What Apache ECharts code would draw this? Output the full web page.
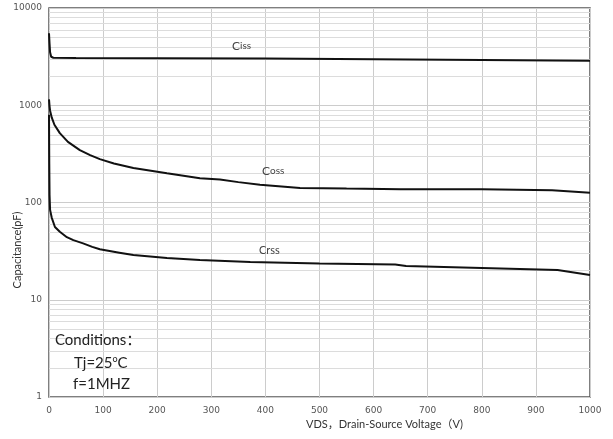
<!DOCTYPE html>
<html>
<head>
<meta charset="utf-8">
<script src="https://cdn.jsdelivr.net/npm/echarts@6/dist/echarts.min.js"></script>
<style>
  html, body { margin: 0; padding: 0; background: #fff; }
  #chart { width: 613px; height: 439px; }
</style>
</head>
<body>
<div id="chart"></div>
<script>
// Input capacitance Ciss vs. drain-source voltage
const cissV = [0, 1, 2, 4, 8, 50, 200, 400, 600, 800, 930, 1000];
const cissC = [5500, 4300, 3500, 3150, 3080, 3070, 3050, 3020, 2980, 2920, 2880, 2860];

// Output capacitance Coss
const cossV = [0, 1, 2, 5, 10, 20, 35, 57, 76, 94, 120, 156, 218, 279, 316, 350, 390, 430, 464, 550, 650, 800, 930, 1000];
const cossC = [1150, 980, 880, 750, 630, 517, 420, 346, 307, 279, 252, 226, 200, 178, 172, 162, 152, 146, 141, 139, 137, 137, 134, 126];

// Reverse transfer capacitance Crss
const crssV = [0, 0.5, 1, 2, 5, 11, 20, 33, 45, 63, 80, 94, 130, 156, 218, 279, 372, 500, 640, 660, 800, 940, 1000];
const crssC = [800, 250, 120, 84, 70, 56, 50, 44, 41, 38, 35, 33, 30.5, 28.8, 26.8, 25.6, 24.4, 23.6, 23.0, 22.2, 21.2, 20.2, 18.0];

// Axis ticks
const xTicks = [0, 100, 200, 300, 400, 500, 600, 700, 800, 900, 1000];
const yDecades = [1, 10, 100, 1000, 10000];
const yMinor = [];
for (let d = 1; d < 10000; d *= 10) {
  for (let m = 2; m <= 9; m++) yMinor.push(m * d);
}

const pairs = (xs, ys) => xs.map((x, i) => [x, ys[i]]);

const xMin = xTicks[0];
const xMax = xTicks[xTicks.length - 1];

const chart = echarts.init(document.getElementById('chart'));

const lineStyle = { color: '#111', width: 2 };

const tickFont = { fontFamily: 'DejaVu Sans', fontSize: 9, color: '#555', formatter: v => String(v) };

const textZ = 100;

// faint horizontal lines at 2..9 of every decade, snapped to whole pixels
const minorGrid = {
  name: 'minor', type: 'custom', silent: true, z: 1,
  data: yMinor.map(v => [xMin, v]),
  encode: { x: 0, y: 1 },
  renderItem: function (params, api) {
    const v = api.value(1);
    const p0 = api.coord([xMin, v]);
    const p1 = api.coord([xMax, v]);
    const y = Math.round(p0[1]) + 0.5;
    return {
      type: 'line',
      shape: { x1: p0[0], y1: y, x2: p1[0], y2: y },
      style: { stroke: '#dcdcdc', lineWidth: 1, fill: null }
    };
  }
};

chart.setOption({
  backgroundColor: '#fff',
  animation: false,
  grid: {
    left: 49, right: 23, top: 8, bottom: 42,
    show: true, borderColor: '#555', borderWidth: 1.5
  },
  xAxis: {
    type: 'value', min: xMin, max: xMax, interval: 100,
    axisLine: { show: false },
    axisTick: { show: false },
    axisLabel: Object.assign({ margin: 9 }, tickFont),
    splitLine: { show: true, lineStyle: { color: '#cccccc', width: 1 } }
  },
  yAxis: {
    type: 'log', logBase: 10, min: yDecades[0], max: yDecades[yDecades.length - 1],
    axisLine: { show: false },
    axisTick: { show: false },
    axisLabel: Object.assign({ margin: 7 }, tickFont),
    splitLine: { show: true, lineStyle: { color: '#cccccc', width: 1 } }
  },
  series: [
    minorGrid,
    { name: 'Ciss', type: 'line', data: pairs(cissV, cissC), showSymbol: false, lineStyle, itemStyle: { color: '#111' }, z: 5 },
    { name: 'Coss', type: 'line', data: pairs(cossV, cossC), showSymbol: false, lineStyle, itemStyle: { color: '#111' }, z: 5 },
    { name: 'Crss', type: 'line', data: pairs(crssV, crssC), showSymbol: false, lineStyle, itemStyle: { color: '#111' }, z: 5 }
  ],
  graphic: [
    {
      type: 'text', left: 232, top: 40, z: textZ,
      style: {
        text: '{c|C}{s|iss}', fill: '#444',
        rich: { c: { fontFamily: 'Lato', fontSize: 12, fill: '#444' }, s: { fontFamily: 'Lato', fontSize: 10, fill: '#444' } }
      }
    },
    {
      type: 'text', left: 262, top: 165, z: textZ,
      style: {
        text: '{c|C}{s|oss}', fill: '#444',
        rich: { c: { fontFamily: 'Lato', fontSize: 12, fill: '#444' }, s: { fontFamily: 'Lato', fontSize: 10, fill: '#444' } }
      }
    },
    {
      type: 'text', left: 259, top: 245, z: textZ,
      style: { text: 'Crss', fill: '#444', font: '11px Lato' }
    },
    {
      type: 'text', left: 55, top: 333, z: textZ,
      style: { text: 'Conditions：', fill: '#222', font: '15px Lato, "Noto Sans CJK SC"' }
    },
    {
      type: 'text', left: 74, top: 355, z: textZ,
      style: {
        text: '{a|Tj=25}{o|o}{a|C}',
        rich: {
          a: { fontFamily: 'Lato', fontSize: 15, fill: '#222' },
          o: { fontFamily: 'Lato', fontSize: 9, fill: '#222', verticalAlign: 'top', padding: [0, 0, 8, 0] }
        }
      }
    },
    {
      type: 'text', left: 73, top: 377, z: textZ,
      style: { text: 'f=1MHZ', fill: '#222', font: '15px Lato' }
    },
    {
      type: 'text', left: 306, top: 419, z: textZ,
      style: {
        text: 'VDS，Drain-Source Voltage（V)', fill: '#333',
        font: '11px Lato, "Noto Sans CJK SC"'
      }
    },
    {
      type: 'text', x: 17, y: 250, rotation: Math.PI / 2, z: textZ,
      style: {
        text: 'Capacitance(pF)', fill: '#333',
        font: '11px Lato', align: 'center', verticalAlign: 'middle'
      }
    }
  ]
});
</script>
</body>
</html>
